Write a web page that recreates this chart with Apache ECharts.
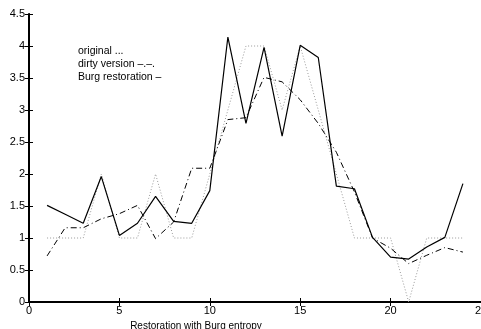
<!DOCTYPE html>
<html>
<head>
<meta charset="utf-8">
<script src="https://cdn.jsdelivr.net/npm/echarts@6/dist/echarts.min.js"></script>
<style>
  html, body { margin: 0; padding: 0; background: #fff; }
  #chart { width: 481px; height: 329px; }
</style>
</head>
<body>
<div id="chart"></div>
<script>
// sample index along x
const steps = [1, 2, 3, 4, 5, 6, 7, 8, 9, 10, 11, 12, 13, 14, 15, 16, 17, 18, 19, 20, 21, 22, 23, 24];

// original signal (dotted)
const original = [1, 1, 1, 2, 1, 1, 2, 1, 1, 2, 3, 4, 4, 3, 4, 3, 2, 1, 1, 1, 0, 1, 1, 1];

// dirty version (dash-dot)
const dirty = [0.72, 1.16, 1.16, 1.3, 1.38, 1.51, 0.99, 1.25, 2.09, 2.09, 2.85, 2.88, 3.51, 3.44, 3.16, 2.79, 2.34, 1.72, 1.0, 0.84, 0.6, 0.73, 0.85, 0.78];

// Burg restoration (solid)
const burg = [1.51, 1.37, 1.23, 1.96, 1.04, 1.23, 1.65, 1.26, 1.23, 1.74, 4.14, 2.79, 3.98, 2.59, 4.01, 3.82, 1.81, 1.77, 1.01, 0.7, 0.67, 0.86, 1.01, 1.85];

const legendLines = ["original ...", "dirty version \u2013.\u2013.", "Burg restoration \u2013"];
const xTitle = "Restoration with Burg entropy";

const font = "'Liberation Sans', Arial, sans-serif";
const pairs = (ys) => steps.map((x, i) => [x, ys[i]]);

const chart = echarts.init(document.getElementById("chart"));

const plainAxis = {
  min: 0,
  axisLine: { show: true, lineStyle: { color: "#000", width: 1 } },
  axisTick: { show: true, inside: true, length: 4, lineStyle: { color: "#000" } },
  splitLine: { show: false },
};

chart.setOption({
  animation: false,
  backgroundColor: "#fff",
  grid: { left: 29, top: 14, right: 0, bottom: 27, outerBoundsMode: "none" },
  xAxis: [
    {
      ...plainAxis,
      type: "value",
      max: 25,
      interval: 5,
      position: "bottom",
      axisLine: { show: true, lineStyle: { color: "#000", width: 2 } },
      axisLabel: { color: "#000", fontFamily: font, fontSize: 11, margin: 3 },
      name: xTitle,
      nameLocation: "middle",
      nameGap: 13,
      nameTextStyle: { color: "#000", fontFamily: font, fontSize: 10, padding: [0, 0, 0, -118] },
    },
    {
      ...plainAxis,
      type: "value",
      max: 25,
      interval: 5,
      position: "top",
      axisLabel: { show: false },
    },
  ],
  yAxis: [
    {
      ...plainAxis,
      type: "value",
      max: 4.5,
      interval: 0.5,
      position: "left",
      axisLine: { show: true, lineStyle: { color: "#000", width: 2 } },
      axisLabel: { color: "#000", fontFamily: font, fontSize: 11, margin: 4 },
    },
    {
      ...plainAxis,
      type: "value",
      max: 4.5,
      interval: 0.5,
      position: "right",
      axisLabel: { show: false },
    },
  ],
  graphic: legendLines.map((t, i) => ({
    type: "text",
    left: 78,
    top: 46 + i * 13,
    style: { text: t, fill: "#000", font: "10.5px " + font },
  })),
  series: [
    {
      name: "original",
      type: "line",
      data: pairs(original),
      symbol: "none",
      lineStyle: { color: "#9a9a9a", width: 1, type: [1, 2] },
    },
    {
      name: "dirty",
      type: "line",
      data: pairs(dirty),
      symbol: "none",
      lineStyle: { color: "#000", width: 1, type: [6, 3, 1, 3] },
    },
    {
      name: "burg",
      type: "line",
      data: pairs(burg),
      symbol: "none",
      lineStyle: { color: "#000", width: 1.2 },
    },
  ],
});
</script>
</body>
</html>
